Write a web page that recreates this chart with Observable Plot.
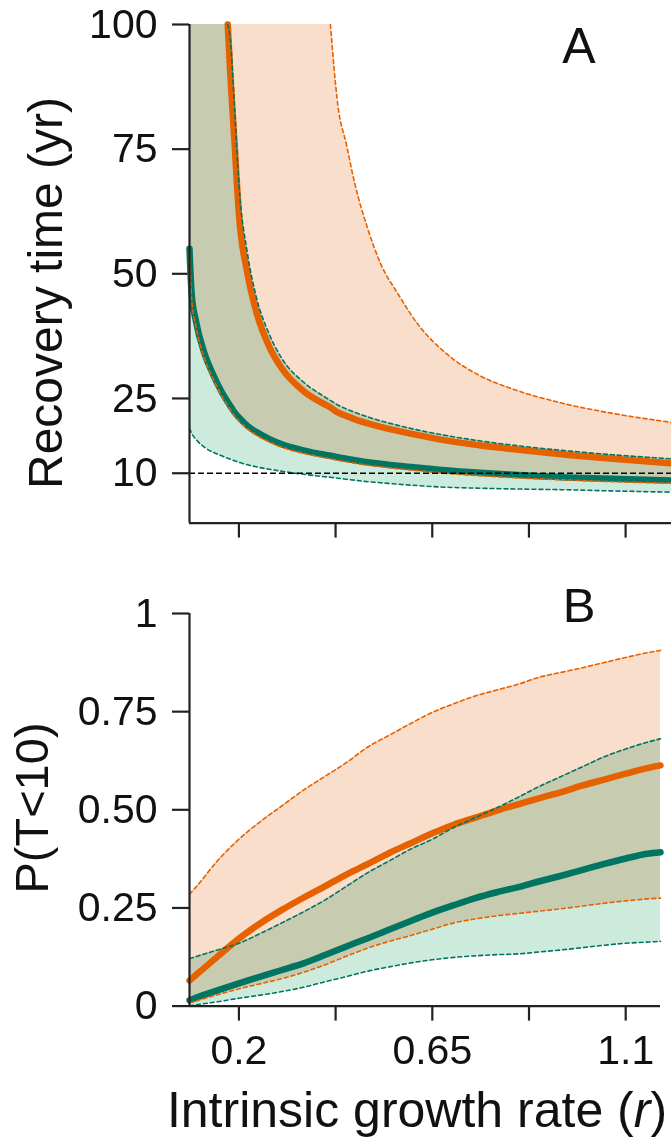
<!DOCTYPE html>
<html>
<head>
<meta charset="utf-8">
<script src="https://cdn.jsdelivr.net/npm/d3@7"></script>
<script src="https://cdn.jsdelivr.net/npm/@observablehq/plot@0.6"></script>
<style>
  html, body { margin: 0; padding: 0; background: #fff; }
  #chart svg { display: block; }
</style>
</head>
<body>
<div id="chart"></div>
<script>
// ---------- Panel A: recovery time (yr) ----------
const rA = [0.085, 0.09, 0.1, 0.12, 0.14, 0.16, 0.174, 0.18, 0.19, 0.2, 0.22, 0.24, 0.27, 0.3, 0.35, 0.4, 0.413, 0.43, 0.45, 0.47, 0.5, 0.53, 0.57, 0.62, 0.68, 0.76, 0.84, 0.95, 1.07, 1.207];
const aOrangeMed = [100, 100, 100, 100, 100, 100, 100, 90, 76, 62, 50, 42.5, 35.5, 31, 26.5, 23.8, 23.2, 22.2, 21.5, 20.8, 20.0, 19.3, 18.5, 17.6, 16.6, 15.6, 14.8, 13.8, 12.9, 12.0];
const aOrangeLo  = [54, 45, 39.5, 33, 29, 25.5, 23.6, 22.8, 21.5, 20.5, 18.9, 17.7, 16.3, 15.2, 14.0, 13.1, 12.9, 12.6, 12.3, 12.0, 11.6, 11.3, 10.9, 10.5, 10.0, 9.5, 9.1, 8.7, 8.3, 8.0];
const aOrangeHi  = [100, 100, 100, 100, 100, 100, 100, 100, 100, 100, 100, 100, 100, 100, 100, 100, 100, 84, 76, 68, 59, 52, 46, 39.5, 34.2, 29.6, 26.8, 24.1, 22.0, 20.2];
const aTealMed   = [55, 46, 40.5, 34, 29.8, 26.3, 24.3, 23.5, 22.2, 21.2, 19.5, 18.3, 16.9, 15.8, 14.6, 13.7, 13.5, 13.2, 12.9, 12.6, 12.2, 11.9, 11.5, 11.1, 10.6, 10.1, 9.7, 9.2, 8.9, 8.55];
const aTealLo    = [19, 18, 16.8, 15.2, 14.2, 13.5, 13.0, 12.8, 12.5, 12.2, 11.7, 11.3, 10.8, 10.4, 9.8, 9.3, 9.2, 9.0, 8.8, 8.6, 8.3, 8.1, 7.8, 7.5, 7.2, 7.0, 6.85, 6.7, 6.45, 6.2];
const aTealHi    = [100, 100, 100, 100, 100, 100, 100, 97, 83, 68, 54, 45.5, 38, 33, 28.3, 25.3, 24.6, 23.7, 22.9, 22.2, 21.3, 20.5, 19.6, 18.6, 17.6, 16.5, 15.6, 14.6, 13.7, 12.9];
const aThreshold = [10];
const yTicksA = [10, 25, 50, 75, 100];

// ---------- Panel B: P(T<10) ----------
const rB = [0.085, 0.1, 0.15, 0.2, 0.25, 0.3, 0.35, 0.4, 0.45, 0.5, 0.55, 0.6, 0.65, 0.7, 0.75, 0.8, 0.85, 0.9, 0.95, 1.0, 1.05, 1.1, 1.15, 1.181];
const bOrangeMed = [0.065, 0.079, 0.126, 0.172, 0.211, 0.245, 0.276, 0.305, 0.335, 0.362, 0.39, 0.415, 0.44, 0.462, 0.48, 0.498, 0.514, 0.53, 0.545, 0.562, 0.577, 0.592, 0.606, 0.613];
const bOrangeLo  = [0.008, 0.013, 0.029, 0.044, 0.057, 0.07, 0.086, 0.105, 0.127, 0.148, 0.165, 0.18, 0.196, 0.212, 0.222, 0.23, 0.236, 0.242, 0.248, 0.255, 0.262, 0.268, 0.273, 0.275];
const bOrangeHi  = [0.285, 0.303, 0.37, 0.425, 0.47, 0.51, 0.55, 0.585, 0.62, 0.66, 0.69, 0.72, 0.748, 0.77, 0.79, 0.805, 0.82, 0.838, 0.85, 0.862, 0.875, 0.888, 0.9, 0.906];
const bTealMed   = [0.015, 0.021, 0.04, 0.058, 0.075, 0.092, 0.109, 0.13, 0.152, 0.173, 0.195, 0.217, 0.238, 0.257, 0.275, 0.29, 0.303, 0.318, 0.332, 0.347, 0.362, 0.376, 0.388, 0.392];
const bTealLo    = [0.0, 0.003, 0.011, 0.02, 0.028, 0.037, 0.048, 0.062, 0.075, 0.089, 0.1, 0.11, 0.118, 0.124, 0.128, 0.131, 0.133, 0.138, 0.143, 0.149, 0.155, 0.16, 0.163, 0.165];
const bTealHi    = [0.121, 0.126, 0.143, 0.16, 0.185, 0.212, 0.24, 0.27, 0.305, 0.34, 0.37, 0.4, 0.425, 0.455, 0.48, 0.505, 0.532, 0.56, 0.585, 0.61, 0.635, 0.655, 0.672, 0.681];
const yTicksB = [0, 0.25, 0.5, 0.75, 1];
const yTickLabelsB = ["0", "0.25", "0.50", "0.75", "1"];

// shared x ticks
const xTicks = [0.2, 0.425, 0.65, 0.875, 1.1];
const xTickLabels = ["0.2", "", "0.65", "", "1.1"];

// ---------- styling ----------
const ORANGE = "#E66100";
const TEAL = "#007562";
const PEACH = "#F9DECC";
const MINT = "#CCEBDC";
const FONT = "'Liberation Sans', Arial, Helvetica, sans-serif";
const CURVE = "monotone-x";

const tableA = rA.map((r, i) => ({r, oMed: aOrangeMed[i], oLo: aOrangeLo[i], oHi: aOrangeHi[i], tMed: aTealMed[i], tLo: aTealLo[i], tHi: aTealHi[i]}));
const tableB = rB.map((r, i) => ({r, oMed: bOrangeMed[i], oLo: bOrangeLo[i], oHi: bOrangeHi[i], tMed: bTealMed[i], tLo: bTealLo[i], tHi: bTealHi[i]}));

// keep only the visible part of a curve (drop the stretch pinned at the top of the frame)
function visible(table, key, top) {
  return table.filter((d, i) => d[key] < top || (i + 1 < table.length && table[i + 1][key] < top));
}

function bandMarks(table, top) {
  const dash = {strokeWidth: 1.6, strokeDasharray: "4,3", curve: CURVE};
  return [
    Plot.areaY(table, {x: "r", y1: "oLo", y2: "oHi", fill: PEACH, curve: CURVE}),
    Plot.areaY(table, {x: "r", y1: "tLo", y2: "tHi", fill: MINT, mixBlendMode: "multiply", curve: CURVE}),
    Plot.line(visible(table, "tMed", top), {x: "r", y: "tMed", stroke: TEAL, strokeWidth: 6.5, curve: CURVE}),
    Plot.line(visible(table, "oMed", top), {x: "r", y: "oMed", stroke: ORANGE, strokeWidth: 6.5, curve: CURVE}),
    Plot.line(visible(table, "oLo", top), {x: "r", y: "oLo", stroke: ORANGE, ...dash}),
    Plot.line(visible(table, "oHi", top), {x: "r", y: "oHi", stroke: ORANGE, ...dash}),
    Plot.line(visible(table, "tLo", top), {x: "r", y: "tLo", stroke: TEAL, ...dash}),
    Plot.line(visible(table, "tHi", top), {x: "r", y: "tHi", stroke: TEAL, ...dash})
  ];
}

const commonStyle = {fontSize: "41px", fontFamily: FONT, color: "#111", background: "white", overflow: "visible"};

const plotA = Plot.plot({
  width: 671,
  height: 560,
  marginLeft: 189,
  marginRight: 0,
  marginTop: 24,
  marginBottom: 37.4,
  style: commonStyle,
  x: {domain: [0.085, 1.2068], ticks: xTicks, tickFormat: () => "", tickSize: 15, tickPadding: 0, label: null},
  y: {domain: [0, 100], ticks: yTicksA, tickSize: 17, tickPadding: 15, tickFormat: d => String(d), label: null},
  marks: [
    ...bandMarks(tableA, 100),
    Plot.ruleY(aThreshold, {stroke: "#000", strokeWidth: 1.5, strokeDasharray: "6,3"}),
    Plot.ruleX([0.085], {y1: 0, y2: 100, stroke: "#222", strokeWidth: 2.2}),
    Plot.ruleY([0], {stroke: "#222", strokeWidth: 2.2})
  ]
});

const plotB = Plot.plot({
  width: 671,
  height: 579,
  marginLeft: 189,
  marginRight: 11,
  marginTop: 53,
  marginBottom: 133.4,
  style: commonStyle,
  x: {domain: [0.085, 1.181], ticks: xTicks, tickFormat: d => xTickLabels[xTicks.indexOf(d)] ?? "", tickSize: 15, tickPadding: 14, label: null},
  y: {domain: [0, 1], ticks: yTicksB, tickSize: 17, tickPadding: 15, tickFormat: d => yTickLabelsB[yTicksB.indexOf(d)] ?? "", label: null},
  marks: [
    ...bandMarks(tableB, 1.01),
    Plot.ruleX([0.085], {y1: 0, y2: 1, stroke: "#222", strokeWidth: 2.2}),
    Plot.ruleY([0], {stroke: "#222", strokeWidth: 2.2})
  ]
});

function thickenAxes(svg) {
  d3.select(svg).selectAll("g[aria-label*='axis'] path, g[aria-label*='axis'] line")
    .attr("stroke-width", 2.2).attr("stroke", "#222");
}
thickenAxes(plotA);
thickenAxes(plotB);

// titles & panel letters
const sa = d3.select(plotA);
sa.append("text").attr("transform", "translate(62,293) rotate(-90)")
  .attr("text-anchor", "middle").attr("font-size", 48).attr("font-family", FONT).attr("fill", "#111")
  .text("Recovery time (yr)");
sa.append("text").attr("x", 579).attr("y", 63).attr("text-anchor", "middle")
  .attr("font-size", 50).attr("font-family", FONT).attr("fill", "#111").text("A");

const sb = d3.select(plotB);
sb.append("text").attr("transform", "translate(48,248) rotate(-90)")
  .attr("text-anchor", "middle").attr("font-size", 47).attr("font-family", FONT).attr("fill", "#111")
  .text("P(T<10)");
sb.append("text").attr("x", 579).attr("y", 62).attr("text-anchor", "middle")
  .attr("font-size", 49).attr("font-family", FONT).attr("fill", "#111").text("B");
const xt = sb.append("text").attr("x", 417).attr("y", 567).attr("text-anchor", "middle")
  .attr("font-size", 50).attr("font-family", FONT).attr("fill", "#111");
xt.append("tspan").text("Intrinsic growth rate (");
xt.append("tspan").attr("font-style", "italic").text("r");
xt.append("tspan").text(")");

const chart = document.getElementById("chart");
chart.appendChild(plotA);
chart.appendChild(plotB);
</script>
</body>
</html>
